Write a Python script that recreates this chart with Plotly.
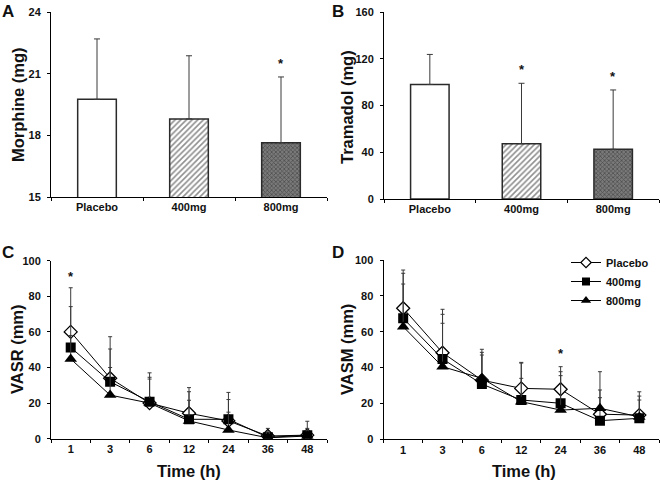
import plotly.graph_objects as go

# ---------------- data ----------------
groups = ["Placebo", "400mg", "800mg"]
morphine = [19.75, 18.8, 17.64]
morphine_err = [2.94, 3.07, 3.2]
tramadol = [98.0, 47.3, 42.5]
tramadol_err = [25.7, 51.7, 50.8]

times = ["1", "3", "6", "12", "24", "36", "48"]
vasr_placebo = [60.0, 34.0, 20.0, 14.3, 10.0, 1.5, 2.0]
vasr_placebo_err = [24.8, 23.3, 17.0, 14.4, 16.0, 4.3, 7.8]
vasr_400 = [51.3, 32.0, 20.8, 10.9, 10.9, 0.8, 1.9]
vasr_400_err = [22.9, 18.4, 13.7, 15.5, 11.1, 3.1, 3.9]
vasr_800 = [44.8, 24.5, 20.0, 10.0, 4.9, 0.5, 1.5]
vasr_800_err = [13.2, 15.5, 13.5, 11.6, 10.0, 2.5, 3.0]

vasm_placebo = [73.1, 48.3, 33.0, 28.4, 27.9, 14.0, 13.5]
vasm_placebo_err = [21.3, 24.2, 17.2, 14.5, 12.6, 23.7, 13.0]
vasm_400 = [67.5, 44.8, 30.8, 21.9, 20.1, 10.4, 11.7]
vasm_400_err = [25.1, 24.9, 17.7, 20.6, 17.6, 17.1, 12.4]
vasm_800 = [62.8, 40.5, 34.0, 21.0, 16.3, 17.3, 12.5]
vasm_800_err = [23.8, 24.2, 13.0, 13.0, 19.2, 5.9, 9.4]

# significance markers: (category, y value)
stars_a = [("800mg", 21.62)]
stars_b = [("400mg", 113.8), ("800mg", 107.0)]
stars_c = [("1", 92.9)]
stars_d = [("24", 49.4)]

# ---------------- style ----------------
W, H = 660, 487
FONT = "Liberation Sans, Arial, Helvetica, sans-serif"
INK = "#111111"
ERRC = "#3a3a3a"


def px_x(p):
    return p / W


def px_y(p):
    return (H - p) / H


fig = go.Figure()

bar_fill = ["white", "white", "#6f6f6f"]
bar_pattern = [
    dict(shape=""),
    dict(shape="/", fgcolor="#1e1e1e", bgcolor="white", size=4, solidity=0.4),
    dict(shape="x", fgcolor="#202020", bgcolor="#7a7a7a", size=3, solidity=0.45),
]


def add_bars(values, errs, xa, ya):
    for i, g in enumerate(groups):
        fig.add_trace(go.Bar(
            x=[g], y=[values[i]], xaxis=xa, yaxis=ya, width=0.42,
            marker=dict(color=bar_fill[i], line=dict(color="#2a2a2a", width=1.5),
                        pattern=bar_pattern[i]),
            error_y=dict(type="data", array=[errs[i]], arrayminus=[0], symmetric=False,
                         color=ERRC, thickness=1, width=3),
            showlegend=False, hoverinfo="skip",
        ))


add_bars(morphine, morphine_err, "x", "y")
add_bars(tramadol, tramadol_err, "x2", "y2")

series_names = ["Placebo", "400mg", "800mg"]
series_markers = [
    dict(symbol="diamond", size=10, color="white", line=dict(color="black", width=1.3)),
    dict(symbol="square", size=10, color="black"),
    dict(symbol="triangle-up", size=11, color="black"),
]
legend_markers = [
    dict(symbol="diamond", size=8, color="white", line=dict(color="black", width=1.2)),
    dict(symbol="square", size=8, color="black"),
    dict(symbol="triangle-up", size=9, color="black"),
]


def add_lines(vals, errs, xa, ya):
    for name, mk, v, e in zip(series_names, series_markers, vals, errs):
        fig.add_trace(go.Scatter(
            x=times, y=v, xaxis=xa, yaxis=ya, name=name, mode="lines+markers",
            line=dict(color="black", width=1), marker=mk,
            error_y=dict(type="data", array=e, arrayminus=[0] * len(e), symmetric=False,
                         color=ERRC, thickness=1, width=2),
            showlegend=False, hoverinfo="skip",
        ))


add_lines([vasr_placebo, vasr_400, vasr_800],
          [vasr_placebo_err, vasr_400_err, vasr_800_err], "x3", "y3")
add_lines([vasm_placebo, vasm_400, vasm_800],
          [vasm_placebo_err, vasm_400_err, vasm_800_err], "x4", "y4")

# legend entries (small symbols, as in the original key)
for name, mk in zip(series_names, legend_markers):
    fig.add_trace(go.Scatter(
        x=[None], y=[None], xaxis="x4", yaxis="y4", name=name, mode="lines+markers",
        line=dict(color="black", width=1), marker=mk, showlegend=True, hoverinfo="skip",
    ))

tickfont = dict(family=FONT, size=11, color=INK, weight="bold")
axis_common = dict(showline=True, linecolor="black", linewidth=1, showgrid=False,
                   zeroline=False, ticks="outside", ticklen=3, tickcolor="black",
                   tickfont=tickfont, automargin=False)

xcat = dict(axis_common, type="category", tickson="boundaries", range=[-0.5, 2.5])
xtime = dict(axis_common, type="category", tickson="boundaries", range=[-0.5, 6.5],
             categoryorder="array", categoryarray=times)

fig.update_layout(
    width=W, height=H, margin=dict(l=0, r=0, t=0, b=0, autoexpand=False),
    paper_bgcolor="white", plot_bgcolor="white",
    font=dict(family=FONT, color=INK, weight="bold"),
    barmode="overlay",
    xaxis=dict(xcat, domain=[px_x(51), px_x(327)], anchor="y"),
    yaxis=dict(axis_common, domain=[px_y(197), px_y(12)], anchor="x",
               range=[15, 24], tickvals=[15, 18, 21, 24], ticklabelstandoff=4),
    xaxis2=dict(xcat, domain=[px_x(384), px_x(659)], anchor="y2"),
    yaxis2=dict(axis_common, domain=[px_y(199), px_y(12)], anchor="x2",
                range=[0, 160], tickvals=[0, 40, 80, 120, 160], ticklabelstandoff=4),
    xaxis3=dict(xtime, domain=[px_x(51), px_x(327)], anchor="y3"),
    yaxis3=dict(axis_common, domain=[px_y(438.7), px_y(260.7)], anchor="x3",
                range=[0, 100], tickvals=[0, 20, 40, 60, 80, 100], ticklabelstandoff=4),
    xaxis4=dict(xtime, domain=[px_x(383.5), px_x(659)], anchor="y4"),
    yaxis4=dict(axis_common, domain=[px_y(439.3), px_y(260)], anchor="x4",
                range=[0, 100], tickvals=[0, 20, 40, 60, 80, 100], ticklabelstandoff=4),
    legend=dict(x=px_x(566), y=px_y(248), xanchor="left", yanchor="top",
                font=dict(family=FONT, size=11, color=INK, weight="bold"),
                bgcolor="rgba(0,0,0,0)", tracegroupgap=0),
)

ann = []
# panel letters
for letter, xp, yp in [("A", 0, 0), ("B", 330, 0), ("C", 0, 241), ("D", 330, 241)]:
    ann.append(dict(text=letter, x=px_x(xp), y=px_y(yp), xref="paper", yref="paper",
                    xanchor="left", yanchor="top", showarrow=False,
                    font=dict(family=FONT, size=17, color=INK, weight="bold")))
# axis titles
title_font = dict(family=FONT, size=16.5, color=INK, weight="bold")
for text, xp, yp in [("Morphine (mg)", 18, 105), ("Tramadol (mg)", 347, 107),
                     ("VASR (mm)", 17, 349), ("VASM (mm)", 347, 350)]:
    ann.append(dict(text=text, x=px_x(xp), y=px_y(yp), xref="paper", yref="paper",
                    textangle=-90, xanchor="center", yanchor="middle", showarrow=False,
                    font=title_font))
for xp in (189, 524):
    ann.append(dict(text="Time (h)", x=px_x(xp), y=px_y(471), xref="paper", yref="paper",
                    xanchor="center", yanchor="middle", showarrow=False, font=title_font))
# asterisks (category axes are addressed by category index)
star_font = dict(family=FONT, size=13, color=INK, weight="bold")
for stars, cats, xa, ya in [(stars_a, groups, "x", "y"), (stars_b, groups, "x2", "y2"),
                            (stars_c, times, "x3", "y3"), (stars_d, times, "x4", "y4")]:
    for xv, yv in stars:
        ann.append(dict(text="*", x=cats.index(xv), y=yv, xref=xa, yref=ya, showarrow=False,
                        xanchor="center", yanchor="middle", yshift=-3, font=star_font))
fig.update_layout(annotations=ann)

fig.write_html(
    "out.html",
    config={"displayModeBar": False},
    post_script="document.body.style.margin='0';document.body.style.padding='0';",
)
